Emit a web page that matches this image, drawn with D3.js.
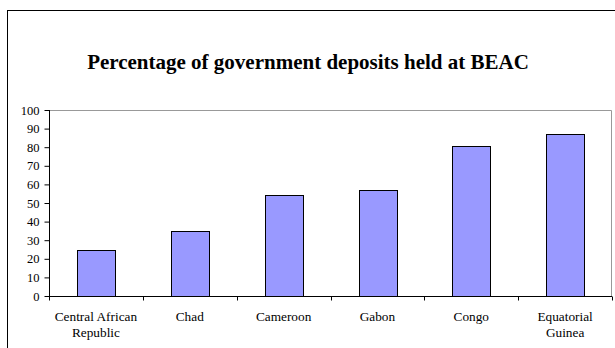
<!DOCTYPE html>
<html>
<head>
<meta charset="utf-8">
<script src="https://cdn.jsdelivr.net/npm/d3@7"></script>
<style>
  body { margin: 0; background: #fff; }
  svg text { font-family: "Liberation Serif", "Times New Roman", serif; }
</style>
</head>
<body>
<div id="graf"></div>
<script>
const paises = [
  ['Central African', 'Republic'],
  ['Chad'],
  ['Cameroon'],
  ['Gabon'],
  ['Congo'],
  ['Equatorial', 'Guinea'],
]
const valores = [24.5, 34.7, 54.2, 57, 80.8, 87.1]
const yTicks = [0, 10, 20, 30, 40, 50, 60, 70, 80, 90, 100]
const titulo = 'Percentage of government deposits held at BEAC'

const anchoTotal = 615
const altoTotal = 348
const margin = { top: 110, right: 3, bottom: 52, left: 49 }
const ancho = anchoTotal - margin.left - margin.right
const alto = altoTotal - margin.top - margin.bottom

const svg = d3
  .select('#graf')
  .append('svg')
  .attr('width', anchoTotal)
  .attr('height', altoTotal)

// marco exterior
svg
  .append('rect')
  .attr('x', 7.5)
  .attr('y', 10.5)
  .attr('width', 640)
  .attr('height', 400)
  .attr('fill', 'none')
  .attr('stroke', '#000')

svg
  .append('text')
  .attr('x', 308)
  .attr('y', 69)
  .attr('text-anchor', 'middle')
  .attr('font-weight', 'bold')
  .attr('font-size', 21)
  .text(titulo)

const g = svg
  .append('g')
  .attr('transform', `translate(${margin.left}, ${margin.top})`)

const idx = d3.range(paises.length)
const x = d3.scaleBand().domain(idx).range([0, ancho]).paddingInner(0.6).paddingOuter(0.3)
const y = d3.scaleLinear().domain([0, 100]).range([alto, 0])

// borde gris del área
g.append('path')
  .attr('d', `M0.5,0.5H${ancho - 0.5}V${alto}`)
  .attr('fill', 'none')
  .attr('stroke', '#999')

g.selectAll('rect.bar')
  .data(valores)
  .join('rect')
  .attr('class', 'bar')
  .attr('x', (d, i) => Math.round(x(i)) + 0.5)
  .attr('y', (d) => Math.round(y(d)) + 0.5)
  .attr('width', Math.round(x.bandwidth()))
  .attr('height', (d) => alto - Math.round(y(d)))
  .attr('fill', '#9999ff')
  .attr('stroke', '#000')

const yAxis = g
  .append('g')
  .attr('transform', 'translate(0.5,0)')
  .call(d3.axisLeft(y).tickValues(yTicks).tickSize(5).tickPadding(5))
yAxis.attr('font-family', null)
yAxis.select('.domain').attr('d', `M0,${alto + 0.5}V0`)
yAxis.selectAll('text').attr('font-size', 12.5)
yAxis.selectAll('line, path').attr('stroke', '#000')

const step = ancho / paises.length
const xAxis = g.append('g').attr('transform', `translate(0, ${alto + 0.5})`)
xAxis
  .append('line')
  .attr('x1', 0)
  .attr('x2', ancho)
  .attr('stroke', '#000')
xAxis
  .selectAll('line.tick')
  .data(d3.range(paises.length + 1))
  .join('line')
  .attr('class', 'tick')
  .attr('x1', (d) => Math.round(d * step) + 0.5)
  .attr('x2', (d) => Math.round(d * step) + 0.5)
  .attr('y1', 0)
  .attr('y2', 4)
  .attr('stroke', '#000')

const etiquetas = xAxis
  .selectAll('text.lbl')
  .data(paises)
  .join('text')
  .attr('class', 'lbl')
  .attr('text-anchor', 'middle')
  .attr('font-size', 13.3)
  .attr('transform', (d, i) => `translate(${x(i) + x.bandwidth() / 2}, 0)`)
etiquetas
  .selectAll('tspan')
  .data((d) => d)
  .join('tspan')
  .attr('x', 0)
  .attr('y', (d, i) => 24.5 + i * 15.5)
  .text((d) => d)
</script>
</body>
</html>
